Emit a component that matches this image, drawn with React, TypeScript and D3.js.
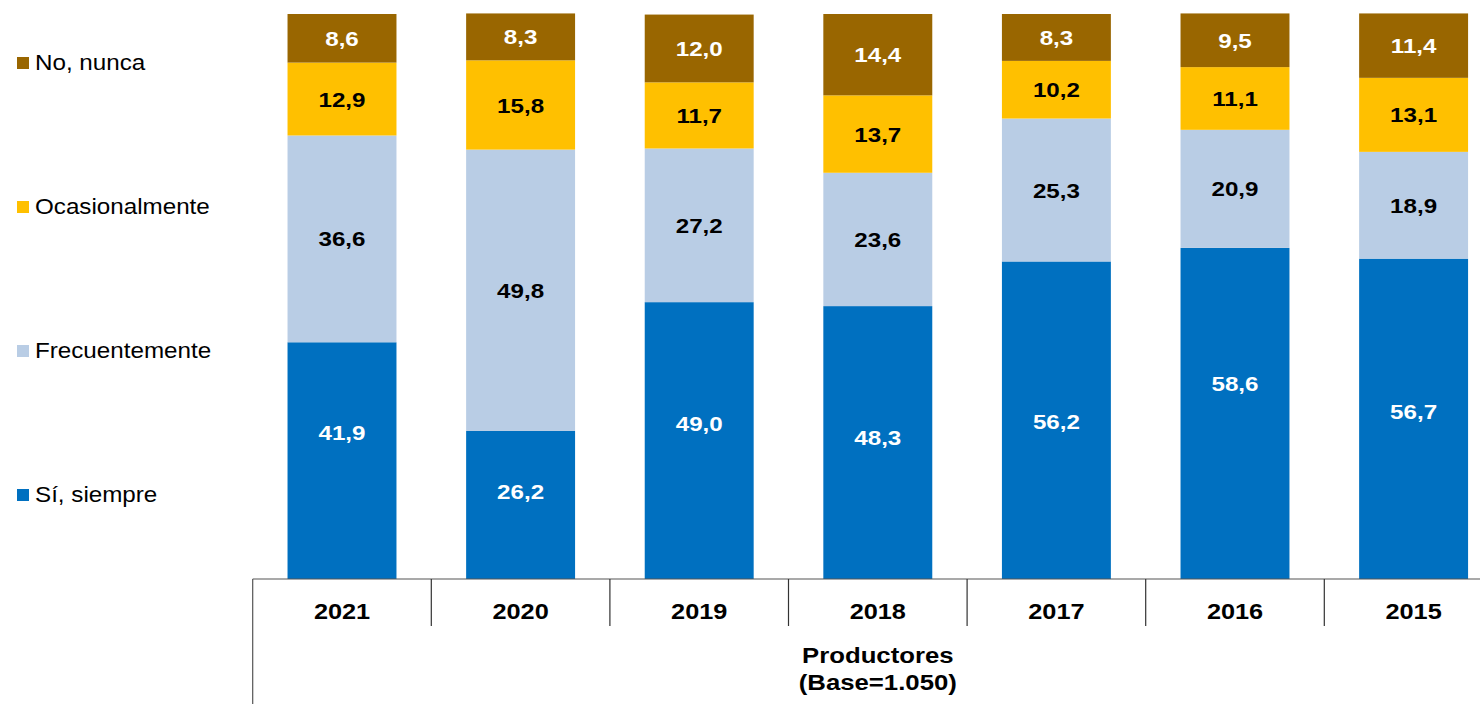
import React from 'react';
import * as d3 from 'd3';

const years = ['2021', '2020', '2019', '2018', '2017', '2016', '2015'];
const siempre = [41.9, 26.2, 49.0, 48.3, 56.2, 58.6, 56.7];
const frecuentemente = [36.6, 49.8, 27.2, 23.6, 25.3, 20.9, 18.9];
const ocasionalmente = [12.9, 15.8, 11.7, 13.7, 10.2, 11.1, 13.1];
const nunca = [8.6, 8.3, 12.0, 14.4, 8.3, 9.5, 11.4];
// value (in %) at which the "Sí, siempre" labels sit in the original
const siempreLabelAt = [25.9, 15.5, 27.5, 25.1, 27.9, 34.6, 29.7];

const seriesNames = ['Sí, siempre', 'Frecuentemente', 'Ocasionalmente', 'No, nunca'];
const seriesKeys = ['siempre', 'frecuentemente', 'ocasionalmente', 'nunca'];
const seriesColors = ['#0070C0', '#B9CDE5', '#FFC000', '#996600'];
const labelColors = ['#ffffff', '#000000', '#000000', '#ffffff'];
const axisTitle = ['Productores', '(Base=1.050)'];

const W = 1480;
const H = 704;
const FONT = "'Liberation Sans', Arial, Helvetica, sans-serif";

export default function App() {
  const rows = years.map((yr, i) => ({
    year: yr,
    siempre: siempre[i],
    frecuentemente: frecuentemente[i],
    ocasionalmente: ocasionalmente[i],
    nunca: nunca[i],
  }));
  const stack = d3.stack<any>().keys(seriesKeys);
  const stacked = stack(rows);

  const x0 = 252.7;
  const step = 178.6;
  const x = d3.scaleBand<string>().domain(years).range([x0, x0 + step * years.length]).padding(0);
  const y = d3.scaleLinear().domain([0, 100]).range([579, 14]);
  const bw = x.bandwidth() * 0.61;
  const axisY = y(0);

  const legendYs = [495, 351, 207, 63];

  return (
    <svg width={W} height={H} style={{ position: 'absolute', left: 0, top: 0, background: '#fff' }}>
      {stacked.map((s, si) => (
        <g key={seriesKeys[si]}>
          {s.map((d, i) => {
            const cx = (x(years[i]) as number) + x.bandwidth() / 2;
            return (
              <rect
                key={i}
                x={cx - bw / 2}
                y={y(d[1])}
                width={bw}
                height={y(d[0]) - y(d[1])}
                fill={seriesColors[si]}
              />
            );
          })}
        </g>
      ))}
      {stacked.map((s, si) => (
        <g key={'l' + seriesKeys[si]}>
          {s.map((d, i) => {
            const cx = (x(years[i]) as number) + x.bandwidth() / 2;
            const val = d[1] - d[0];
            const ly = si === 0 ? y(siempreLabelAt[i]) : y((d[0] + d[1]) / 2);
            return (
              <text
                key={i}
                transform={`translate(${cx},${ly}) scale(1.15,1)`}
                textAnchor="middle"
                dy="0.36em"
                fontFamily={FONT}
                fontWeight="bold"
                fontSize={21}
                fill={labelColors[si]}
              >
                {d3.format('.1f')(val).replace('.', ',')}
              </text>
            );
          })}
        </g>
      ))}
      {/* axis */}
      <line x1={x0} x2={W} y1={axisY} y2={axisY} stroke="#555" strokeWidth={1.2} />
      <line x1={x0} x2={x0} y1={axisY} y2={H} stroke="#555" strokeWidth={1.2} />
      {years.slice(1).map((yr) => (
        <line key={yr} x1={x(yr) as number} x2={x(yr) as number} y1={axisY} y2={626} stroke="#333" strokeWidth={1.2} />
      ))}
      {years.map((yr) => (
        <text
          key={yr}
          transform={`translate(${(x(yr) as number) + x.bandwidth() / 2},619) scale(1.15,1)`}
          textAnchor="middle"
          fontFamily={FONT}
          fontWeight="bold"
          fontSize={22}
          fill="#000"
        >
          {yr}
        </text>
      ))}
      {axisTitle.map((t, i) => (
        <text
          key={t}
          transform={`translate(${(x(years[3]) as number) + x.bandwidth() / 2},${663 + i * 27}) scale(1.17,1)`}
          textAnchor="middle"
          fontFamily={FONT}
          fontWeight="bold"
          fontSize={22}
          fill="#000"
        >
          {t}
        </text>
      ))}
      {/* legend */}
      {seriesNames.map((n, i) => (
        <g key={n}>
          <rect x={17} y={legendYs[i] - 6} width={12} height={12} fill={seriesColors[i]} />
          <text
            transform={`translate(35,${legendYs[i] + 7}) scale(1.1,1)`}
            fontFamily={FONT}
            fontSize={22}
            fill="#000"
          >
            {n}
          </text>
        </g>
      ))}
    </svg>
  );
}
